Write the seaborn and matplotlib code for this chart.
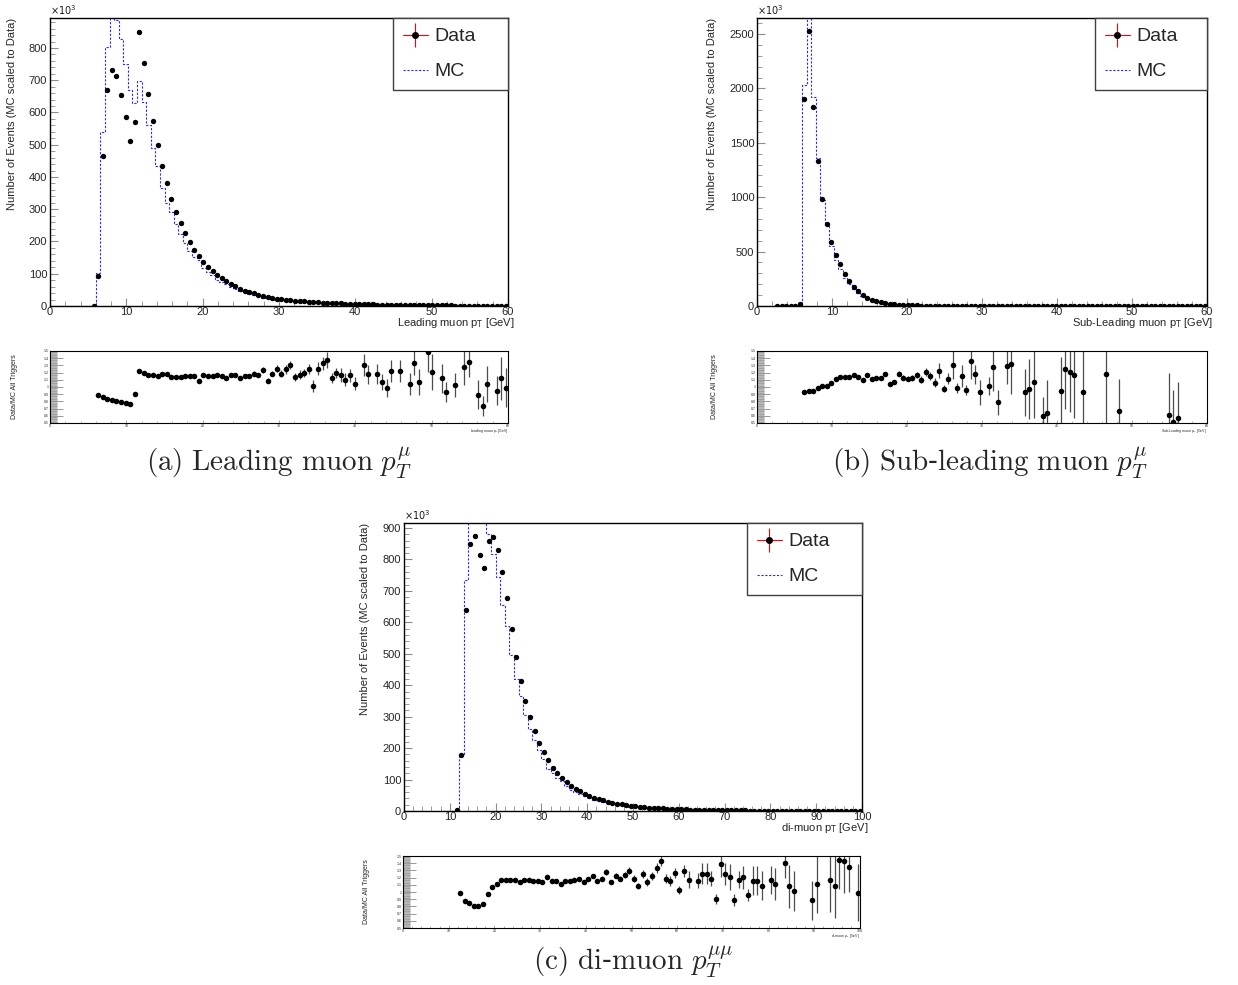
import numpy as np
import pandas as pd
import seaborn as sns
import matplotlib.pyplot as plt
from matplotlib.lines import Line2D
from matplotlib.legend_handler import HandlerTuple
from matplotlib.ticker import MultipleLocator, FuncFormatter

nan = np.nan

# ---- (a) leading muon pT, 100 bins 0-60 GeV ----
lead_data = [nan, nan, nan, nan, nan, nan, nan, nan, nan, 0,
             92, 466, 671, 732, 713, 655, 585, 512, 569, 851,
             755, 658, 575, 500, 435, 380, 332, 291, 256, 226,
             197, 175, 155, 137, 122, 110, 96, 86, 76, 68,
             61, 54, 48, 43, 39, 35, 32, 29, 26, 23,
             21, 19.5, 18, 16.5, 15.2, 14, 13, 12, 11.2, 10.4,
             9.7, 9, 8.4, 7.8, 7.3, 6.8, 6.3, 5.9, 5.5, 5.1,
             4.8, 4.5, 4.2, 3.9, 3.7, 3.4, 3.2, 3.0, 2.8, 2.6,
             2.5, 2.3, 2.2, 2.0, 1.9, 1.8, 1.7, 1.6, 1.5, 1.4,
             1.3, 1.2, 1.15, 1.1, 1.0, 0.95, 0.9, 0.85, 0.8, 0.75]
lead_mc = [0, 0, 0, 0, 0, 0, 0, 0, 0, 0,
           103, 541, 803, 895, 887, 829, 749, 671, 629, 698,
           634, 561, 490, 435, 366, 320, 291, 254, 224, 195,
           171, 151, 144, 117, 106, 96, 82, 75, 67, 58,
           52, 48, 42, 37, 33, 30, 26, 27, 22, 18,
           18, 16.5, 15, 14, 13, 12, 11, 10, 9.5, 8.8,
           8.2, 7.6, 7.1, 6.6, 6.2, 5.8, 5.3, 5.0, 4.7, 4.3,
           4.1, 3.8, 3.6, 3.3, 3.1, 2.9, 2.7, 2.5, 2.4, 2.2,
           2.1, 2.0, 1.9, 1.7, 1.6, 1.5, 1.45, 1.35, 1.3, 1.2,
           1.1, 1.0, 0.97, 0.93, 0.85, 0.8, 0.76, 0.72, 0.68, 0.64]
lead_rx = [6.3, 6.9, 7.5, 8.1, 8.7, 9.3, 9.9, 10.5, 11.1, 11.7,
           12.3, 12.9, 13.5, 14.1, 14.7, 15.3, 15.9, 16.5, 17.1, 17.7,
           18.3, 18.9, 19.5, 20.1, 20.7, 21.3, 21.9, 22.5, 23.1, 23.7,
           24.3, 24.9, 25.5, 26.1, 26.7, 27.3, 27.9, 28.5, 29.1, 29.7,
           30.3, 30.9, 31.5, 32.1, 32.7, 33.3, 33.9, 34.5, 35.1, 35.7,
           36.3, 36.9, 37.5, 38.1, 38.7, 39.3, 39.9, 41.1, 41.7, 42.9,
           43.5, 44.1, 44.7, 45.9, 47.1, 47.7, 48.3, 49.5, 50.1, 51.3,
           51.9, 53.1, 54.3, 54.9, 56.1, 56.7, 57.3, 58.5, 59.1, 59.7]
lead_ratio = [0.892, 0.86, 0.836, 0.818, 0.804, 0.79, 0.781, 0.763, 0.905, 1.219,
              1.19, 1.173, 1.173, 1.15, 1.187, 1.187, 1.14, 1.145, 1.145, 1.159,
              1.15, 1.159, 1.08, 1.168, 1.15, 1.15, 1.173, 1.15, 1.127, 1.168,
              1.173, 1.131, 1.154, 1.154, 1.187, 1.164, 1.237, 1.09, 1.187, 1.256,
              1.182, 1.247, 1.306, 1.14, 1.173, 1.196, 1.256, 1.016, 1.251, 1.33,
              1.38, 1.122, 1.191, 1.164, 1.1, 1.16, 1.045, 1.302, 1.177, 1.182,
              1.067, 0.988, 1.219, 1.219, 1.039, 1.336, 1.067, 1.486, 1.21, 1.122,
              0.929, 1.031, 1.274, 1.352, 0.892, 0.74, 1.048, 0.947, 1.122, 0.99]
lead_err = [0.003, 0.003, 0.003, 0.003, 0.003, 0.003, 0.003, 0.003, 0.003, 0.004,
            0.004, 0.004, 0.004, 0.004, 0.005, 0.005, 0.005, 0.005, 0.005, 0.005,
            0.005, 0.006, 0.006, 0.007, 0.007, 0.008, 0.008, 0.009, 0.01, 0.012,
            0.015, 0.02, 0.02, 0.025, 0.03, 0.03, 0.04, 0.035, 0.04, 0.045,
            0.05, 0.06, 0.06, 0.06, 0.06, 0.06, 0.07, 0.08, 0.09, 0.09,
            0.11, 0.07, 0.07, 0.1, 0.09, 0.09, 0.09, 0.15, 0.13, 0.14,
            0.11, 0.12, 0.15, 0.15, 0.15, 0.17, 0.18, 0.28, 0.25, 0.2,
            0.14, 0.17, 0.25, 0.22, 0.2, 0.14, 0.25, 0.2, 0.3, 0.27]

# ---- (b) sub-leading muon pT, 100 bins 0-60 GeV ----
sub_data = [nan, nan, nan, nan, 1, 1, 1, 1, 1, 15,
            1905, 2525, 1825, 1331, 985, 752, 586, 469, 390, 298,
            230, 178, 138, 104, 77, 58, 43, 34, 25, 18,
            14, 11, 9, 7.5, 6.2, 5.2, 4.4, 3.7, 3.1, 2.6,
            2.2, 1.9, 1.6, 1.4, 1.2, 1.0, 0.9, 0.8, 0.7, 0.6,
            0.5, 0.45, 0.4, 0.37, 0.33, 0.3, 0.27, 0.25, 0.22, 0.2,
            0.18, 0.17, 0.15, 0.14, 0.13, 0.12, 0.11, 0.1, 0.09, 0.08,
            0.08, 0.07, 0.07, 0.06, 0.06, 0.05, 0.05, 0.05, 0.04, 0.04,
            0.04, 0.03, 0.03, 0.03, 0.03, 0.03, 0.02, 0.02, 0.02, 0.02,
            0.02, 0.02, 0.02, 0.02, 0.01, 0.01, 0.01, 0.01, 0.01, 0.01]
sub_mc = [0, 0, 0, 0, 0, 0, 0, 0, 0, 0,
          2030, 2680, 1921, 1358, 975, 740, 556, 421, 341, 260,
          202, 153, 121, 95, 66, 52, 38, 30, 21, 17,
          12.5, 10, 8, 6.7, 5.5, 4.6, 3.9, 3.3, 2.8, 2.3,
          2.0, 1.7, 1.4, 1.25, 1.07, 0.9, 0.8, 0.7, 0.62, 0.53,
          0.45, 0.4, 0.36, 0.33, 0.3, 0.27, 0.24, 0.22, 0.2, 0.18,
          0.16, 0.15, 0.13, 0.12, 0.11, 0.1, 0.1, 0.09, 0.08, 0.07,
          0.07, 0.06, 0.06, 0.05, 0.05, 0.05, 0.04, 0.04, 0.04, 0.03,
          0.03, 0.03, 0.03, 0.03, 0.02, 0.02, 0.02, 0.02, 0.02, 0.02,
          0.02, 0.02, 0.02, 0.01, 0.01, 0.01, 0.01, 0.01, 0.01, 0.01]
sub_rx = [6.3, 6.9, 7.5, 8.1, 8.7, 9.3, 9.9, 10.5, 11.1, 11.7,
          12.3, 12.9, 13.5, 14.1, 14.7, 15.3, 15.9, 16.5, 17.1, 17.7,
          18.3, 18.9, 19.5, 20.1, 20.7, 21.3, 21.9, 22.5, 23.1, 23.7,
          24.3, 24.9, 25.5, 26.1, 26.7, 27.3, 27.9, 28.5, 29.1, 29.7,
          30.9, 31.5, 32.1, 33.3, 33.9, 35.7, 36.3, 36.9, 38.1, 38.7,
          40.5, 41.1, 41.7, 42.3, 43.5, 46.5, 48.3, 54.9, 55.5, 56.1]
sub_ratio = [0.929, 0.942, 0.95, 0.98, 1.01, 1.016, 1.053, 1.113, 1.145, 1.145,
             1.136, 1.164, 1.14, 1.1, 1.173, 1.118, 1.122, 1.122, 1.177, 1.048,
             1.076, 1.187, 1.131, 1.113, 1.122, 1.164, 1.104, 1.205, 1.154, 1.062,
             1.228, 0.975, 1.118, 1.306, 0.988, 1.154, 0.952, 1.357, 1.177, 0.924,
             1.012, 1.283, 0.786, 1.288, 1.316, 0.924, 0.975, 1.067, 0.597, 0.643,
             0.947, 1.247, 1.205, 1.168, 0.929, 1.177, 0.67, 0.611, 0.51, 0.565]
sub_err = [0.002, 0.002, 0.002, 0.002, 0.002, 0.002, 0.003, 0.004, 0.005, 0.006,
           0.007, 0.008, 0.01, 0.011, 0.012, 0.014, 0.015, 0.017, 0.02, 0.022,
           0.025, 0.03, 0.032, 0.035, 0.04, 0.045, 0.05, 0.055, 0.06, 0.06,
           0.1, 0.05, 0.08, 0.2, 0.07, 0.15, 0.07, 0.25, 0.13, 0.17,
           0.13, 0.34, 0.17, 0.25, 0.42, 0.32, 0.42, 0.5, 0.27, 0.45,
           0.47, 0.55, 0.55, 0.6, 0.6, 0.7, 0.44, 0.59, 0.45, 0.5]

# ---- (c) di-muon pT, 100 bins 0-100 GeV ----
di_data = [nan, nan, nan, nan, nan, nan, nan, nan, nan, nan,
           nan, 2, 179, 640, 849, 874, 814, 773, 859, 872,
           829, 760, 679, 579, 489, 414, 351, 298, 256, 217,
           188, 162, 138, 122, 105, 92, 78, 70, 63, 53,
           48, 42, 37, 34, 30, 27, 23, 21, 18, 17,
           15, 13.5, 12.2, 11, 10, 9, 8.2, 7.4, 6.7, 6.1,
           5.5, 5.0, 4.6, 4.2, 3.8, 3.5, 3.2, 2.9, 2.7, 2.5,
           2.3, 2.1, 1.9, 1.8, 1.65, 1.5, 1.4, 1.3, 1.2, 1.1,
           1.0, 0.95, 0.88, 0.82, 0.76, 0.7, 0.65, 0.6, 0.56, 0.52,
           0.48, 0.45, 0.42, 0.39, 0.36, 0.34, 0.32, 0.3, 0.28, 0.26]
di_mc = [0, 0, 0, 0, 0, 0, 0, 0, 0, 0,
         0, 0, 182, 736, 1003, 1080, 1006, 925, 881, 817,
         745, 654, 587, 497, 421, 366, 304, 261, 225, 193,
         166, 135, 121, 106, 94, 79, 67, 60, 54, 47,
         40, 34, 32, 29, 24, 24, 19, 18, 15, 13,
         12.6, 11.5, 10.2, 9.2, 8.3, 7.5, 6.8, 6.2, 5.6, 5.1,
         4.6, 4.2, 3.8, 3.5, 3.2, 2.9, 2.6, 2.4, 2.2, 2.0,
         1.9, 1.75, 1.6, 1.5, 1.4, 1.25, 1.15, 1.1, 1.0, 0.92,
         0.85, 0.8, 0.73, 0.68, 0.63, 0.58, 0.54, 0.5, 0.47, 0.43,
         0.4, 0.37, 0.35, 0.32, 0.3, 0.28, 0.26, 0.25, 0.23, 0.21]
di_rx = [12.5, 13.5, 14.5, 15.5, 16.5, 17.5, 18.5, 19.5, 20.5, 21.5,
         22.5, 23.5, 24.5, 25.5, 26.5, 27.5, 28.5, 29.5, 30.5, 31.5,
         32.5, 33.5, 34.5, 35.5, 36.5, 37.5, 38.5, 39.5, 40.5, 41.5,
         42.5, 43.5, 44.5, 45.5, 46.5, 47.5, 48.5, 49.5, 50.5, 51.5,
         52.5, 53.5, 54.5, 55.5, 56.5, 57.5, 58.5, 59.5, 60.5, 61.5,
         62.5, 64.5, 65.5, 66.5, 67.5, 68.5, 69.5, 70.5, 71.5, 72.5,
         73.5, 74.5, 75.5, 76.5, 77.5, 78.5, 80.5, 81.5, 83.5, 84.5,
         85.5, 89.5, 90.5, 93.5, 94.5, 95.5, 96.5, 97.5, 99.5]
di_ratio = [0.984, 0.869, 0.846, 0.809, 0.809, 0.836, 0.975, 1.067, 1.113, 1.173,
            1.173, 1.173, 1.173, 1.136, 1.164, 1.164, 1.159, 1.159, 1.145, 1.21,
            1.154, 1.159, 1.118, 1.159, 1.154, 1.173, 1.177, 1.136, 1.187, 1.228,
            1.159, 1.187, 1.274, 1.136, 1.228, 1.187, 1.237, 1.297, 1.187, 1.085,
            1.251, 1.14, 1.223, 1.339, 1.435, 1.187, 1.159, 1.265, 1.03, 1.293,
            1.173, 1.159, 1.256, 1.256, 1.187, 0.906, 1.385, 1.247, 1.214, 0.887,
            1.173, 1.205, 0.956, 1.159, 1.159, 1.09, 1.168, 1.108, 1.399, 1.081,
            1.016, 0.882, 1.108, 1.168, 1.085, 1.445, 1.435, 1.352, 0.993]
di_err = [0.004, 0.004, 0.004, 0.004, 0.004, 0.004, 0.004, 0.004, 0.004, 0.004,
          0.004, 0.004, 0.005, 0.005, 0.005, 0.006, 0.006, 0.007, 0.007, 0.008,
          0.008, 0.009, 0.01, 0.011, 0.012, 0.014, 0.015, 0.017, 0.02, 0.025,
          0.025, 0.03, 0.04, 0.03, 0.04, 0.04, 0.04, 0.05, 0.05, 0.04,
          0.06, 0.05, 0.06, 0.07, 0.07, 0.06, 0.07, 0.07, 0.06, 0.08,
          0.12, 0.1, 0.15, 0.15, 0.1, 0.07, 0.18, 0.15, 0.18, 0.08,
          0.12, 0.16, 0.08, 0.2, 0.2, 0.2, 0.2, 0.22, 0.2, 0.3,
          0.28, 0.27, 0.4, 0.45, 0.45, 0.4, 0.45, 0.35, 0.4]

sns.set_theme(style='white')
plt.rcParams['font.family'] = ['Liberation Sans', 'DejaVu Sans']

W, H = 1238, 985
fig = plt.figure(figsize=(W / 100, H / 100), dpi=100, facecolor='white')


def box(l, t, r, b):
    return [l / W, 1 - b / H, (r - l) / W, (b - t) / H]


MC_LS = (0, (2, 1.5))


def draw_main(ax, xmax, data, mc, ymax, ymaj, ymin_step, xlabel, ylab_x, leg_x0):
    nb = len(mc)
    width = xmax / nb
    centers = (np.arange(nb) + 0.5) * width
    df = pd.DataFrame({'pt': centers, 'mc': mc, 'data': data})
    sns.histplot(data=df, x='pt', weights='mc', binwidth=width,
                 binrange=(0, xmax), element='step', fill=False,
                 color='#2a2aff', linewidth=0.8, linestyle=MC_LS, ax=ax)
    sns.scatterplot(data=df, x='pt', y='data', color='black', s=15,
                    linewidth=0, ax=ax, zorder=3)
    ax.set_xlim(0, xmax)
    ax.set_ylim(0, ymax)
    ax.xaxis.set_major_locator(MultipleLocator(10))
    ax.xaxis.set_minor_locator(MultipleLocator(2))
    ax.yaxis.set_major_locator(MultipleLocator(ymaj))
    ax.yaxis.set_minor_locator(MultipleLocator(ymin_step))
    ax.tick_params(which='both', direction='in', color='0.55', labelsize=8,
                   bottom=True, left=True, top=False, right=False)
    ax.tick_params(which='major', length=6, width=0.8)
    ax.tick_params(which='minor', length=3.5, width=0.6)
    ax.tick_params(axis='x', pad=0.5)
    ax.tick_params(axis='y', pad=2)
    for s in ax.spines.values():
        s.set_color('black')
        s.set_linewidth(1.0)
    ax.set_ylabel('Number of Events (MC scaled to Data)', fontsize=8, loc='top')
    ax.yaxis.set_label_coords(ylab_x, 1.0)
    ax.set_xlabel(xlabel, fontsize=8, loc='right')
    ax.xaxis.set_label_coords(1.015, -0.034)
    ax.text(0.0, 1.003, r'$\times10^{3}$', transform=ax.transAxes, fontsize=7,
            ha='left', va='bottom', color='0.1')
    # legend: red error cross with black marker, blue dotted line
    h_data = (Line2D([], [], color='red', lw=0.8),
              Line2D([], [], color='red', marker='|', markersize=17, mew=0.8,
                     linestyle='none'),
              Line2D([], [], color='black', marker='o', markersize=4,
                     linestyle='none'))
    h_mc = Line2D([], [], color='#2a2aff', lw=0.8, linestyle=MC_LS)
    leg = ax.legend([h_data, h_mc], ['Data', 'MC'],
                    handler_map={tuple: HandlerTuple(ndivide=1)},
                    loc='upper right', bbox_to_anchor=(leg_x0, 0, 1 - leg_x0, 1),
                    mode='expand', borderaxespad=0, fontsize=14,
                    frameon=True, fancybox=False, framealpha=1,
                    handlelength=1.3, handletextpad=0.35, labelspacing=0.9,
                    borderpad=0.5)
    leg.get_frame().set_edgecolor('0.25')
    leg.get_frame().set_linewidth(1.0)


def draw_ratio(ax, xmax, rx, ry, re, xlabel, ylab_x):
    ax.errorbar(rx, ry, yerr=re, fmt='none', ecolor='0.3', elinewidth=0.9,
                capsize=0)
    sns.scatterplot(x=rx, y=ry, color='black', s=16, linewidth=0, ax=ax,
                    zorder=3)
    ax.set_xlim(0, xmax)
    ax.set_ylim(0.5, 1.5)
    ax.xaxis.set_major_locator(MultipleLocator(10))
    ax.xaxis.set_minor_locator(MultipleLocator(2))
    ax.yaxis.set_major_locator(MultipleLocator(0.1))
    ax.yaxis.set_minor_locator(MultipleLocator(0.01))
    ax.yaxis.set_major_formatter(FuncFormatter(lambda v, p: f'{v:g}'))
    ax.tick_params(which='both', direction='in', color='0.6', labelsize=2.5,
                   bottom=True, left=True, top=False, right=False, pad=1)
    ax.tick_params(axis='y', which='major', length=9, width=0.7)
    ax.tick_params(axis='y', which='minor', length=5, width=0.5)
    ax.tick_params(axis='x', which='major', length=2.5, width=0.6)
    ax.tick_params(axis='x', which='minor', length=1.2, width=0.5)
    for s in ax.spines.values():
        s.set_color('black')
        s.set_linewidth(0.8)
    ax.set_ylabel('Data/MC All Triggers', fontsize=5)
    ax.yaxis.set_label_coords(ylab_x, 0.5)
    ax.set_xlabel(xlabel, fontsize=2.5, loc='right')
    ax.xaxis.set_label_coords(1.0, -0.06)


ax_a = fig.add_axes(box(50, 18, 508, 306))
draw_main(ax_a, 60, lead_data, lead_mc, 893, 100, 20,
          r'Leading muon p$_{\mathrm{T}}$ [GeV]', -0.072, 0.749)
ax_ar = fig.add_axes(box(50, 351, 508, 423))
draw_ratio(ax_ar, 60, lead_rx, lead_ratio, lead_err,
           r'Leading muon p$_{\mathrm{T}}$ [GeV]', -0.07)

ax_b = fig.add_axes(box(757, 18, 1207, 306))
draw_main(ax_b, 60, sub_data, sub_mc, 2647, 500, 100,
          r'Sub-Leading muon p$_{\mathrm{T}}$ [GeV]', -0.089, 0.751)
ax_br = fig.add_axes(box(757, 351, 1207, 423))
draw_ratio(ax_br, 60, sub_rx, sub_ratio, sub_err,
           r'Sub-Leading muon p$_{\mathrm{T}}$ [GeV]', -0.087)

ax_c = fig.add_axes(box(404, 523, 862, 811))
draw_main(ax_c, 100, di_data, di_mc, 916, 100, 20,
          r'di-muon p$_{\mathrm{T}}$ [GeV]', -0.074, 0.749)
ax_cr = fig.add_axes(box(403, 856, 860, 928))
draw_ratio(ax_cr, 100, di_rx, di_ratio, di_err,
           r'di-muon p$_{\mathrm{T}}$ [GeV]', -0.072)

captions = [(279, 463, r'$\mathrm{(a)\ Leading\ muon\ }p_T^{\mu}$'),
            (990, 463, r'$\mathrm{(b)\ Sub}$-$\mathrm{leading\ muon\ }p_T^{\mu}$'),
            (633, 962, r'$\mathrm{(c)\ di}$-$\mathrm{muon\ }p_T^{\mu\mu}$')]
for cx, cy, txt in captions:
    fig.text(cx / W, 1 - cy / H, txt, fontsize=21, ha='center', va='center',
             math_fontfamily='cm', family=['DejaVu Serif'])

fig.savefig('out.png', dpi=100, facecolor='white')
